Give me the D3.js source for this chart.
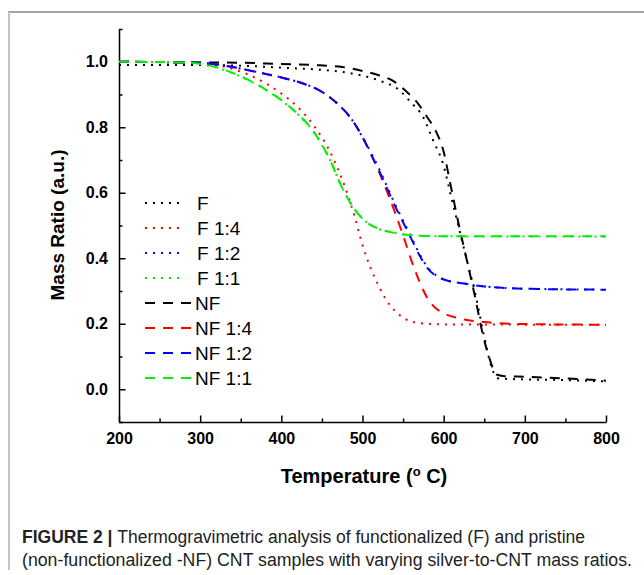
<!DOCTYPE html>
<html>
<head>
<meta charset="utf-8">
<script src="https://cdn.jsdelivr.net/npm/d3@7"></script>
<style>
  body { margin: 0; background: #fff; }
  svg { display: block; }
  .tick text { font-family: "Liberation Sans", Arial, sans-serif; font-weight: bold; font-size: 16px; fill: #000; }
</style>
</head>
<body>
<svg id="chart" width="644" height="575"></svg>
<script>
// series values (temperature in C, mass ratio)
const fT = [200, 300, 350, 400, 450, 480, 520, 545, 560, 575, 587, 599, 610, 620, 630, 640, 650, 660, 668, 700, 750, 800];
const fV = [0.99, 0.99, 0.988, 0.982, 0.975, 0.967, 0.943, 0.914, 0.875, 0.83, 0.76, 0.69, 0.58, 0.48, 0.38, 0.28, 0.16, 0.06, 0.033, 0.03, 0.028, 0.024];

const f14T = [200, 300, 320, 340, 360, 380, 400, 420, 440, 460, 475, 490, 500, 510, 520, 530, 545, 560, 580, 600, 800];
const f14V = [1.0, 0.995, 0.99, 0.978, 0.96, 0.935, 0.903, 0.862, 0.805, 0.725, 0.64, 0.53, 0.44, 0.37, 0.315, 0.27, 0.228, 0.207, 0.2, 0.198, 0.197];

const f12T = [200, 300, 325, 350, 375, 400, 425, 450, 470, 485, 500, 511, 521, 531, 541, 551, 561, 571, 581, 591, 601, 625, 650, 700, 800];
const f12V = [1.0, 0.997, 0.99, 0.979, 0.966, 0.952, 0.935, 0.908, 0.87, 0.83, 0.77, 0.72, 0.67, 0.615, 0.56, 0.51, 0.46, 0.41, 0.37, 0.347, 0.335, 0.323, 0.314, 0.307, 0.304];

const f11T = [200, 280, 300, 320, 340, 360, 380, 400, 420, 440, 460, 475, 490, 505, 520, 540, 560, 580, 600, 800];
const f11V = [1.0, 0.998, 0.993, 0.982, 0.965, 0.943, 0.915, 0.882, 0.84, 0.785, 0.70, 0.615, 0.55, 0.51, 0.49, 0.477, 0.47, 0.468, 0.467, 0.466];

const nfT = [200, 300, 350, 400, 440, 475, 505, 520, 540, 555, 567, 580, 590, 600, 608, 618, 628, 638, 648, 657, 665, 675, 700, 750, 800];
const nfV = [1.0, 0.998, 0.997, 0.993, 0.99, 0.984, 0.969, 0.959, 0.938, 0.907, 0.877, 0.83, 0.79, 0.725, 0.63, 0.51, 0.4, 0.29, 0.17, 0.09, 0.045, 0.04, 0.038, 0.033, 0.026];

const nf14T = [200, 300, 325, 350, 375, 400, 425, 450, 470, 485, 500, 510, 520, 530, 540, 550, 560, 570, 580, 590, 600, 620, 650, 700, 800];
const nf14V = [1.0, 0.997, 0.99, 0.979, 0.966, 0.952, 0.935, 0.908, 0.87, 0.83, 0.77, 0.72, 0.665, 0.605, 0.54, 0.47, 0.395, 0.33, 0.278, 0.248, 0.232, 0.216, 0.205, 0.199, 0.197];

const nf12T = [200, 300, 325, 350, 375, 400, 425, 450, 470, 485, 500, 510, 520, 530, 540, 550, 560, 570, 580, 590, 600, 625, 650, 700, 800];
const nf12V = [1.0, 0.997, 0.99, 0.979, 0.966, 0.952, 0.935, 0.908, 0.87, 0.83, 0.77, 0.72, 0.67, 0.615, 0.56, 0.51, 0.46, 0.41, 0.37, 0.347, 0.335, 0.323, 0.314, 0.307, 0.304];

const nf11T = [200, 280, 300, 320, 340, 360, 380, 400, 420, 440, 460, 475, 490, 505, 520, 540, 560, 580, 600, 800];
const nf11V = [1.0, 0.998, 0.994, 0.983, 0.966, 0.944, 0.916, 0.883, 0.841, 0.786, 0.70, 0.615, 0.55, 0.51, 0.49, 0.477, 0.47, 0.468, 0.467, 0.467];

const seriesNames = ['F', 'F 1:4', 'F 1:2', 'F 1:1', 'NF', 'NF 1:4', 'NF 1:2', 'NF 1:1'];
const seriesColors = ['#000000', '#ff0000', '#0000ff', '#00ee00', '#000000', '#ff0000', '#0000ff', '#00ee00'];
const seriesT = [fT, f14T, f12T, f11T, nfT, nf14T, nf12T, nf11T];
const seriesV = [fV, f14V, f12V, f11V, nfV, nf14V, nf12V, nf11V];

const xTicks = [200, 300, 400, 500, 600, 700, 800];
const xMinor = [250, 350, 450, 550, 650, 750];
const yTicks = [0.0, 0.2, 0.4, 0.6, 0.8, 1.0];
const yMinor = [-0.1, 0.1, 0.3, 0.5, 0.7, 0.9, 1.1];

const caption1 = 'Thermogravimetric analysis of functionalized (F) and pristine';
const caption2 = '(non-functionalized -NF) CNT samples with varying silver-to-CNT mass ratios.';

const svg = d3.select('#chart');
const font = '"Liberation Sans", Arial, sans-serif';

// page frame lines
svg.append('line').attr('x1', 8).attr('x2', 644).attr('y1', 12).attr('y2', 12)
  .attr('stroke', '#a5a5a5').attr('stroke-width', 2);
svg.append('line').attr('x1', 9).attr('x2', 9).attr('y1', 12).attr('y2', 570)
  .attr('stroke', '#c4c4c4').attr('stroke-width', 2);

const x = d3.scaleLinear().domain([200, 800]).range([119, 606]);
const y = d3.scaleLinear().domain([-0.1, 1.1]).range([422, 29]);

// minor ticks
svg.append('g').attr('transform', 'translate(0,422)')
  .call(d3.axisBottom(x).tickValues(xMinor).tickSize(-3.5).tickFormat('').tickSizeOuter(0))
  .call(g => g.select('.domain').remove())
  .selectAll('line').attr('stroke-width', 1.5);
svg.append('g').attr('transform', 'translate(119,0)')
  .call(d3.axisLeft(y).tickValues(yMinor).tickSize(-3.5).tickFormat('').tickSizeOuter(0))
  .call(g => g.select('.domain').remove())
  .selectAll('line').attr('stroke-width', 1.5);

// major axes
const xAxis = svg.append('g').attr('transform', 'translate(0,422)')
  .call(d3.axisBottom(x).tickValues(xTicks).tickSize(-6.5).tickSizeOuter(0).tickPadding(10.5).tickFormat(d3.format('d')));
const yAxis = svg.append('g').attr('transform', 'translate(119,0)')
  .call(d3.axisLeft(y).tickValues(yTicks).tickSize(-6.5).tickSizeOuter(0).tickPadding(11).tickFormat(d3.format('.1f')));
[xAxis, yAxis].forEach(g => {
  g.select('.domain').attr('stroke-width', 1.5);
  g.selectAll('.tick line').attr('stroke-width', 1.5);
});

// curves
const line = d3.line().curve(d3.curveMonotoneX)
  .x(d => x(d[0])).y(d => y(d[1]));

seriesNames.forEach((name, i) => {
  const pts = seriesT[i].map((t, j) => [t, seriesV[i][j]]);
  const dotted = i < 4;
  svg.append('path')
    .datum(pts)
    .attr('fill', 'none')
    .attr('stroke', seriesColors[i])
    .attr('stroke-width', 2)
    .attr('stroke-dasharray', dotted ? '2,6' : '10,8')
    .attr('d', line);
});

// legend
const legend = svg.append('g');
seriesNames.forEach((name, i) => {
  const cy = 203 + i * 25;
  const dotted = i < 4;
  legend.append('line')
    .attr('x1', 145).attr('x2', dotted ? 185 : 193)
    .attr('y1', cy).attr('y2', cy)
    .attr('stroke', seriesColors[i]).attr('stroke-width', 2)
    .attr('stroke-dasharray', dotted ? '2,6' : '10,8');
  legend.append('text')
    .attr('x', dotted ? 197 : 195).attr('y', cy + 7)
    .attr('font-family', font).attr('font-size', 19)
    .text(name);
});

// axis titles
svg.append('text')
  .attr('transform', 'translate(64,225) rotate(-90)')
  .attr('text-anchor', 'middle')
  .attr('font-family', font).attr('font-weight', 'bold').attr('font-size', 19)
  .text('Mass Ratio (a.u.)');

const xt = svg.append('text')
  .attr('x', 364).attr('y', 483)
  .attr('text-anchor', 'middle')
  .attr('font-family', font).attr('font-weight', 'bold').attr('font-size', 20);
xt.append('tspan').text('Temperature (');
xt.append('tspan').attr('font-size', 13).attr('dy', -7).text('o');
xt.append('tspan').attr('dy', 7).text(' C)');

// caption
const c1 = svg.append('text')
  .attr('x', 22).attr('y', 543)
  .attr('font-family', '"Liberation Sans Narrow", "Liberation Sans", Arial, sans-serif')
  .attr('font-size', 18).attr('fill', '#222')
  .attr('textLength', 563).attr('lengthAdjust', 'spacingAndGlyphs');
c1.append('tspan').attr('font-weight', 'bold').text('FIGURE 2 | ');
c1.append('tspan').text(caption1);

svg.append('text')
  .attr('x', 22).attr('y', 566)
  .attr('font-family', '"Liberation Sans Narrow", "Liberation Sans", Arial, sans-serif')
  .attr('font-size', 18).attr('fill', '#222')
  .attr('textLength', 610).attr('lengthAdjust', 'spacingAndGlyphs')
  .text(caption2);
</script>
</body>
</html>
